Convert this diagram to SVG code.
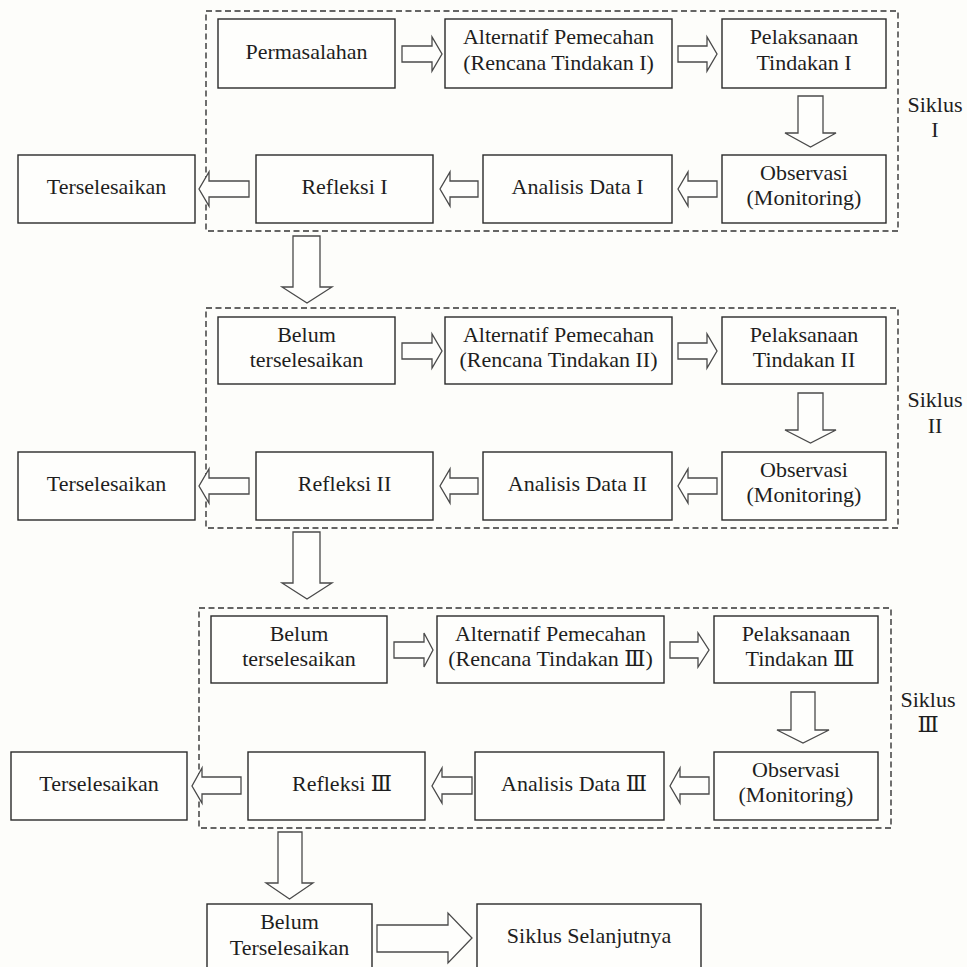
<svg xmlns="http://www.w3.org/2000/svg" width="967" height="967" viewBox="0 0 967 967">
<style>
.bg{fill:#fdfdfa}
.box{fill:#fefefc;stroke:#2a2a2a;stroke-width:1.4}
.dash{fill:none;stroke:#333;stroke-width:1.4;stroke-dasharray:6 3.5}
.arr{fill:#fefefc;stroke:#4a4a4a;stroke-width:1.3;stroke-linejoin:miter}
text{font-family:"Liberation Serif","DejaVu Serif",serif;font-size:22px;fill:#1e1e1e;text-anchor:middle}
</style>
<rect class="bg" x="0" y="0" width="967" height="967"/>

<g id="siklus1">
<rect class="dash" x="206" y="11" width="692" height="220"/>
<text x="935" y="112">Siklus</text><text x="935" y="137">I</text>
</g>
<g id="siklus2">
<rect class="dash" x="206" y="308" width="692" height="220"/>
<text x="935" y="407">Siklus</text><text x="935" y="433">II</text>
</g>
<g id="siklus3">
<rect class="dash" x="199" y="608" width="692" height="220"/>
<text x="928" y="707">Siklus</text><text x="928" y="732">Ⅲ</text>
</g>

<!-- Section I -->
<g id="permasalahan"><rect class="box" x="218" y="19" width="177" height="69"/><text x="306.5" y="58.5">Permasalahan</text></g>
<g id="alternatif1"><rect class="box" x="445" y="19" width="227" height="69"/><text x="558.5" y="44">Alternatif Pemecahan</text><text x="558.5" y="70">(Rencana Tindakan I)</text></g>
<g id="pelaksanaan1"><rect class="box" x="722" y="19" width="164" height="69"/><text x="804" y="44">Pelaksanaan</text><text x="804" y="70">Tindakan I</text></g>
<g id="observasi1"><rect class="box" x="722" y="155" width="164" height="68"/><text x="804" y="180">Observasi</text><text x="804" y="205">(Monitoring)</text></g>
<g id="analisis1"><rect class="box" x="483" y="155" width="189" height="68"/><text x="577.5" y="194">Analisis Data I</text></g>
<g id="refleksi1"><rect class="box" x="256" y="155" width="177" height="68"/><text x="344.5" y="194">Refleksi I</text></g>
<g id="terselesaikan1"><rect class="box" x="18" y="155" width="177" height="68"/><text x="106.5" y="194">Terselesaikan</text></g>

<!-- Section II -->
<g id="belum2"><rect class="box" x="218" y="317" width="177" height="67"/><text x="306.5" y="342">Belum</text><text x="306.5" y="367">terselesaikan</text></g>
<g id="alternatif2"><rect class="box" x="445" y="317" width="227" height="67"/><text x="558.5" y="342">Alternatif Pemecahan</text><text x="558.5" y="367">(Rencana Tindakan II)</text></g>
<g id="pelaksanaan2"><rect class="box" x="722" y="317" width="164" height="67"/><text x="804" y="342">Pelaksanaan</text><text x="804" y="367">Tindakan II</text></g>
<g id="observasi2"><rect class="box" x="722" y="452" width="164" height="68"/><text x="804" y="477">Observasi</text><text x="804" y="502">(Monitoring)</text></g>
<g id="analisis2"><rect class="box" x="483" y="452" width="189" height="68"/><text x="577.5" y="491">Analisis Data II</text></g>
<g id="refleksi2"><rect class="box" x="256" y="452" width="177" height="68"/><text x="344.5" y="491">Refleksi II</text></g>
<g id="terselesaikan2"><rect class="box" x="18" y="452" width="177" height="68"/><text x="106.5" y="491">Terselesaikan</text></g>

<!-- Section III -->
<g id="belum3"><rect class="box" x="211" y="616" width="176" height="67"/><text x="299" y="641">Belum</text><text x="299" y="666">terselesaikan</text></g>
<g id="alternatif3"><rect class="box" x="437" y="616" width="227" height="67"/><text x="550.5" y="641">Alternatif Pemecahan</text><text x="550.5" y="666">(Rencana Tindakan Ⅲ)</text></g>
<g id="pelaksanaan3"><rect class="box" x="714" y="616" width="164" height="67"/><text x="796" y="641">Pelaksanaan</text><text x="800" y="666">Tindakan Ⅲ</text></g>
<g id="observasi3"><rect class="box" x="714" y="752" width="164" height="68"/><text x="796" y="777">Observasi</text><text x="796" y="802">(Monitoring)</text></g>
<g id="analisis3"><rect class="box" x="475" y="752" width="189" height="68"/><text x="574" y="791">Analisis Data Ⅲ</text></g>
<g id="refleksi3"><rect class="box" x="248" y="752" width="177" height="68"/><text x="342" y="791">Refleksi  Ⅲ</text></g>
<g id="terselesaikan3"><rect class="box" x="11" y="752" width="176" height="68"/><text x="99" y="791">Terselesaikan</text></g>

<!-- Bottom -->
<g id="belum_terselesaikan"><rect class="box" x="207" y="904" width="165" height="70"/><text x="289.5" y="929">Belum</text><text x="289.5" y="955">Terselesaikan</text></g>
<g id="siklus_selanjutnya"><rect class="box" x="477" y="904" width="224" height="70"/><text x="589" y="943">Siklus Selanjutnya</text></g>

<g id="connectors">
<!-- Section I -->
<polygon class="arr" points="402,46 432,46 432,37 442,54 432,71 432,62 402,62"/>
<polygon class="arr" points="678,46 707,46 707,37 717,54 707,71 707,62 678,62"/>
<polygon class="arr" points="798,96 823,96 823,133 836,133 810.5,147 785,133 798,133"/>
<polygon class="arr" points="717,181 688,181 688,172 678,189 688,206 688,197 717,197"/>
<polygon class="arr" points="478,181 450,181 450,172 440,189 450,206 450,197 478,197"/>
<polygon class="arr" points="249,181 209,181 209,172 199,189 209,206 209,197 249,197"/>
<!-- I to II -->
<polygon class="arr" points="293,236 320,236 320,287 332,287 307,303 282,287 293,287"/>
<!-- Section II -->
<polygon class="arr" points="402,343 432,343 432,334 442,351 432,368 432,359 402,359"/>
<polygon class="arr" points="678,343 707,343 707,334 717,351 707,368 707,359 678,359"/>
<polygon class="arr" points="798,393 823,393 823,430 836,430 810.5,443 785,430 798,430"/>
<polygon class="arr" points="717,478 688,478 688,469 678,486 688,503 688,494 717,494"/>
<polygon class="arr" points="478,478 450,478 450,469 440,486 450,503 450,494 478,494"/>
<polygon class="arr" points="249,478 209,478 209,469 199,486 209,503 209,494 249,494"/>
<!-- II to III -->
<polygon class="arr" points="293,532 320,532 320,583 332,583 307,599 282,583 293,583"/>
<!-- Section III -->
<polygon class="arr" points="394,642 424,642 424,633 433,650 424,667 424,658 394,658"/>
<polygon class="arr" points="670,642 698,642 698,633 709,650 698,667 698,658 670,658"/>
<polygon class="arr" points="791,692 815,692 815,730 829,730 803,743 777,730 791,730"/>
<polygon class="arr" points="709,777 680,777 680,768 670,786 680,803 680,794 709,794"/>
<polygon class="arr" points="472,777 442,777 442,768 432,786 442,803 442,794 472,794"/>
<polygon class="arr" points="241,777 202,777 202,768 192,786 202,803 202,794 241,794"/>
<!-- III to bottom -->
<polygon class="arr" points="278,832 302,832 302,883 313,883 289.5,899 266,883 278,883"/>
<polygon class="arr" points="377,925 448,925 448,913 472,938 448,963 448,952 377,952"/>
</g>
</svg>
